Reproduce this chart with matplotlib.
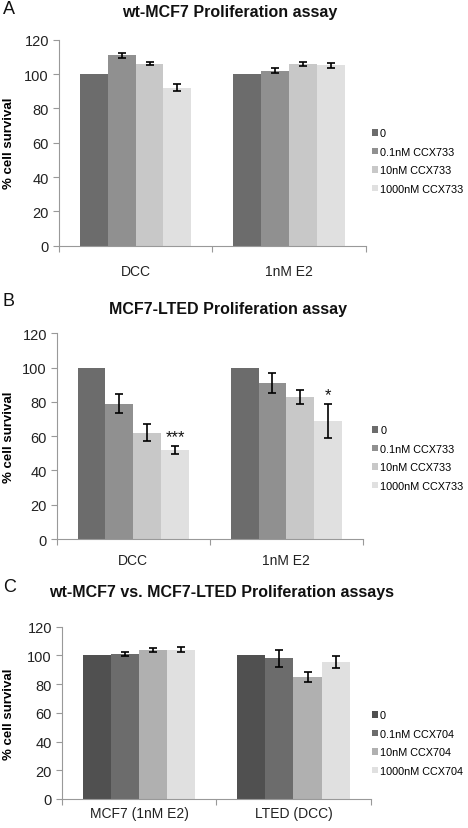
import matplotlib
matplotlib.use("Agg")
import matplotlib.pyplot as plt
import numpy as np

plt.rcParams['font.family'] = ['Liberation Sans', 'DejaVu Sans']

# ---- data ----
groups_ab = ["DCC", "1nM E2"]
series_ab = ["0", "0.1nM CCX733", "10nM CCX733", "1000nM CCX733"]
a_vals = [[100, 100], [111, 102], [106, 106], [92, 105]]
a_err = [[0, 0], [1.5, 1.5], [1.0, 1.2], [2.0, 1.2]]

b_vals = [[100, 100], [79, 91], [62, 83], [52, 69]]
b_err = [[0, 0], [5.5, 5.7], [5.0, 4.0], [2.3, 9.8]]
b_marks = [["", ""], ["", ""], ["", ""], ["***", "*"]]

groups_c = ["MCF7 (1nM E2)", "LTED (DCC)"]
series_c = ["0", "0.1nM CCX704", "10nM CCX704", "1000nM CCX704"]
c_vals = [[100, 100], [101, 98], [104, 85], [104, 95.5]]
c_err = [[0, 0], [1.7, 6.0], [1.3, 3.3], [1.6, 4.3]]

colors_ab = ["#6c6c6c", "#909090", "#c8c8c8", "#e0e0e0"]
colors_c = ["#505050", "#6c6c6c", "#b0b0b0", "#e0e0e0"]

titles = ["wt-MCF7 Proliferation assay", "MCF7-LTED Proliferation assay",
          "wt-MCF7 vs. MCF7-LTED Proliferation assays"]
letters = ["A", "B", "C"]
yticks = [0, 20, 40, 60, 80, 100, 120]

W, H = 468, 829
fig = plt.figure(figsize=(W / 100, H / 100), dpi=100)


def frac_box(l, r, top, bot):
    return [l / W, 1 - bot / H, (r - l) / W, (bot - top) / H]


boxes = [frac_box(58.7, 366, 40.7, 246.7),
         frac_box(56.7, 363, 334.3, 540),
         frac_box(61.7, 370.7, 627.7, 800)]
panels = [(groups_ab, series_ab, a_vals, a_err, None, colors_ab),
          (groups_ab, series_ab, b_vals, b_err, b_marks, colors_ab),
          (groups_c, series_c, c_vals, c_err, None, colors_c)]
title_xy = [(230, 12), (228, 310), (221.5, 592)]
letter_y = [9, 302, 588]
legend_center_px = [162, 459, 744]
xpads = [13, 10, 5]

bw = 0.182
for i, (box, (groups, series, vals, errs, marks, cols)) in enumerate(zip(boxes, panels)):
    ax = fig.add_axes(box)
    x = np.arange(len(groups))
    for j, s in enumerate(series):
        off = (j - 1.5) * bw
        ax.bar(x + off, vals[j], bw, color=cols[j], label=s, edgecolor='none', zorder=2)
        idx = [k for k in range(len(groups)) if errs[j][k] > 0]
        if idx:
            ax.errorbar([x[k] + off for k in idx], [vals[j][k] for k in idx],
                        yerr=[errs[j][k] for k in idx], fmt='none', ecolor='black',
                        elinewidth=1.2, capsize=3, capthick=1.2, zorder=3)
        if marks is not None:
            for k in range(len(groups)):
                if marks[j][k]:
                    ax.text(x[k] + off, vals[j][k] + errs[j][k] + 1, marks[j][k],
                            ha='center', va='bottom', fontsize=12, color='#111')
    ax.set_xlim(-0.5, len(groups) - 0.5)
    ax.set_ylim(0, 120)
    ax.set_yticks(yticks)
    ax.set_xticks(x)
    ax.set_xticklabels(groups, fontsize=10, color='#222')
    ax.set_xticks([-0.5, 0.5, 1.5], minor=True)
    ax.tick_params(axis='x', which='major', length=0, pad=xpads[i])
    ax.tick_params(axis='x', which='minor', length=4, color='#999', width=0.8)
    ax.tick_params(axis='y', length=4, color='#999', width=0.8, labelsize=10.5,
                   labelcolor='#222', pad=3)
    for sp in ['top', 'right']:
        ax.spines[sp].set_visible(False)
    for sp in ['left', 'bottom']:
        ax.spines[sp].set_color('#999')
        ax.spines[sp].set_linewidth(0.8)
    ax.set_ylabel("% cell survival", fontsize=9.5, fontweight='bold')
    ax.yaxis.set_label_coords(-(box[0] * W - 15) / (box[2] * W), 0.5)
    fig.text(title_xy[i][0] / W, 1 - title_xy[i][1] / H, titles[i], ha='center',
             va='center', fontsize=11.5, fontweight='bold', color='#111')
    fig.text(3 / W, 1 - letter_y[i] / H, letters[i], ha='left', va='center',
             fontsize=13, color='#111')
    ax_top = (1 - box[1] - box[3]) * H
    ax_bot = (1 - box[1]) * H
    cy = (ax_bot - legend_center_px[i]) / (ax_bot - ax_top)
    cx = (372 - box[0] * W) / (box[2] * W)
    ax.legend(loc='center left', bbox_to_anchor=(cx, cy), frameon=False,
              fontsize=7.8, handlelength=0.55, handleheight=0.55, handletextpad=0.2,
              labelspacing=0.78, borderpad=0, borderaxespad=0)

fig.savefig("out.png", dpi=100)
